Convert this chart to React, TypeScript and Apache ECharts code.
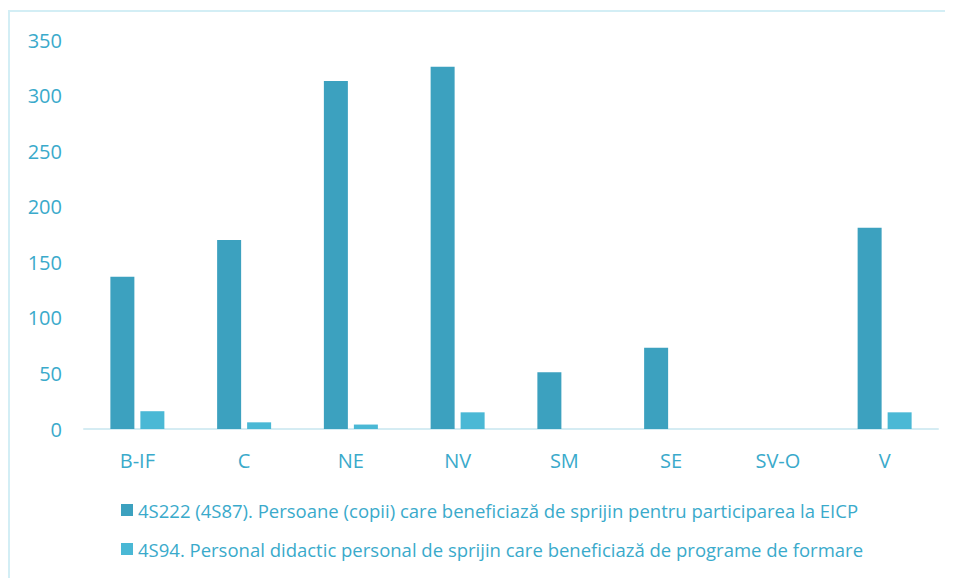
import React, { useEffect, useRef } from "react";
import * as echarts from "echarts";

const categories = ["B-IF", "C", "NE", "NV", "SM", "SE", "SV-O", "V"];
const seriesNames = [
  "4S222 (4S87). Persoane (copii) care beneficiază de sprijin pentru participarea la EICP",
  "4S94. Personal didactic personal de sprijin care beneficiază de programe de formare",
];
const persoaneValues = [137, 170, 313, 326, 51, 73, 0, 181];
const personalValues = [16, 6, 4, 15, 0, 0, 0, 15];
const yTicks = { min: 0, max: 350, interval: 50 };

export default function App() {
  const ref = useRef<HTMLDivElement>(null);
  useEffect(() => {
    if (!ref.current) return;
    const chart = echarts.init(ref.current, null, { renderer: "svg" });
    const font = "'Open Sans', 'Noto Sans', sans-serif";
    const textColor = "#3AAACB";
    chart.setOption({
      animation: false,
      textStyle: { fontFamily: font },
      graphic: [
        {
          type: "polyline",
          shape: { points: [[1, 600], [1, 3], [960, 3]] },
          style: { stroke: "#D3EEF5", lineWidth: 2, fill: "none" },
        },
      ],
      grid: { left: 76, right: 15, top: 32, bottom: 149 },
      xAxis: {
        type: "category",
        data: categories,
        axisLine: { lineStyle: { color: "#D5ECF3", width: 2 } },
        axisTick: { show: false },
        axisLabel: { color: textColor, fontSize: 20, margin: 21, fontFamily: font },
      },
      yAxis: {
        type: "value",
        min: yTicks.min,
        max: yTicks.max,
        interval: yTicks.interval,
        splitLine: { show: false },
        axisLine: { show: false },
        axisTick: { show: false },
        axisLabel: { color: textColor, fontSize: 20, margin: 22, fontFamily: font },
      },
      legend: {
        orient: "vertical",
        left: 108,
        top: 486,
        itemWidth: 12,
        itemHeight: 12,
        itemGap: 17,
        icon: "rect",
        textStyle: { color: textColor, fontSize: 18.5, fontFamily: font, lineHeight: 22 },
        data: seriesNames,
      },
      series: [
        {
          name: seriesNames[0],
          type: "bar",
          data: persoaneValues,
          barWidth: 24,
          barGap: "25%",
          itemStyle: { color: "#3CA1BF" },
        },
        {
          name: seriesNames[1],
          type: "bar",
          data: personalValues,
          barWidth: 24,
          barGap: "25%",
          itemStyle: { color: "#4AB8D5" },
        },
      ],
    });
    return () => chart.dispose();
  }, []);
  return <div ref={ref} style={{ width: 945, height: 570 }} />;
}
